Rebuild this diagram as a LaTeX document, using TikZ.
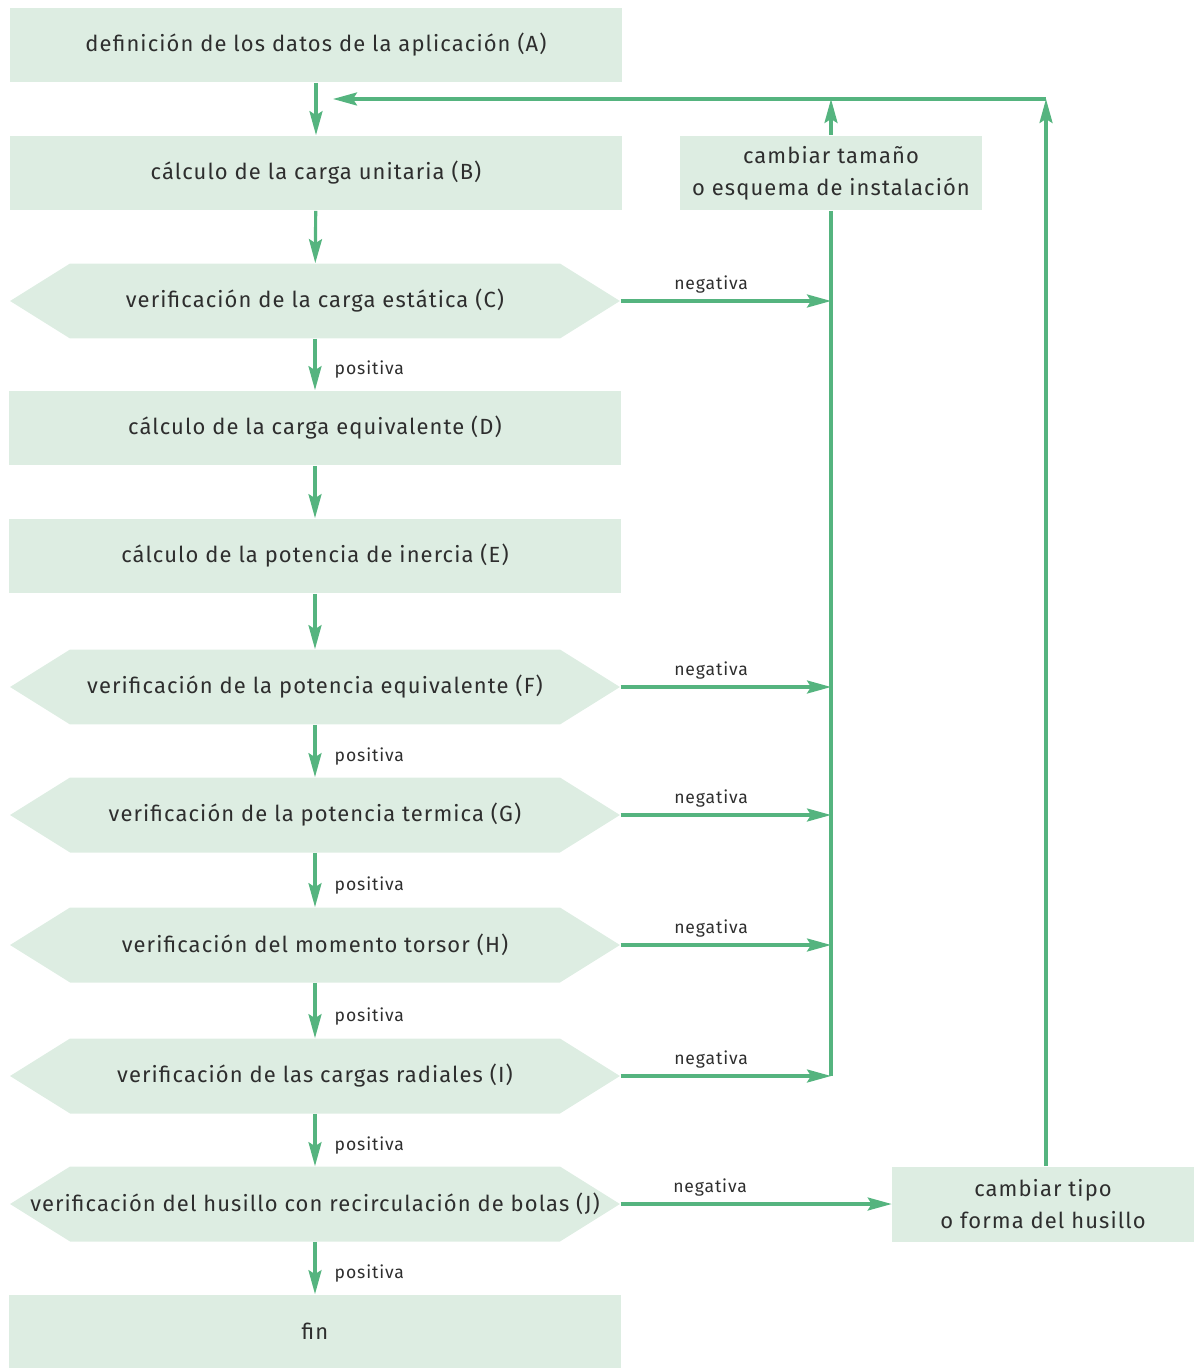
\documentclass[tikz,border=0pt]{standalone}
\usepackage{fontspec}
\setmainfont{Fira Sans}[LetterSpace=5]
\usetikzlibrary{arrows.meta, shapes.symbols}

\definecolor{boxfill}{HTML}{DDEDE2}
\definecolor{flowgreen}{HTML}{55B47F}
\definecolor{textgray}{HTML}{2E2E2E}

\begin{document}
\begin{tikzpicture}[
  x=0.02cm, y=-0.02cm,
  >={Stealth[length=4.8mm, width=2.6mm, inset=0.8mm]},
  font=\fontsize{12.5}{18}\selectfont,
  procbox/.style={fill=boxfill, text=textgray, minimum width=12.24cm,
    minimum height=1.5cm, inner sep=0pt, align=center},
  checkbox/.style={fill=boxfill, text=textgray, minimum width=12.2cm,
    minimum height=1.5cm, inner sep=0pt, shape=signal,
    signal to=west and east, signal pointer angle=64,
    execute at begin node={\hbox to 0pt\bgroup\hss},
    execute at end node={\hss\egroup}},
  flow/.style={->, flowgreen, line width=1.8pt},
  tag/.style={text=textgray, font=\fontsize{10}{12}\selectfont},
  ]
  \useasboundingbox (0,0) rectangle (1202,1368);

  % main column
  \node[procbox] (A) at (316,45) {definición de los datos de la aplicación (A)};
  \node[procbox] (B) at (316,173) {cálculo de la carga unitaria (B)};
  \node[checkbox] (C) at (315,301) {verificación de la carga estática (C)};
  \node[procbox] (D) at (315,428) {cálculo de la carga equivalente (D)};
  \node[procbox] (E) at (315,556) {cálculo de la potencia de inercia (E)};
  \node[checkbox] (F) at (315,687) {verificación de la potencia equivalente (F)};
  \node[checkbox] (G) at (315,815) {verificación de la potencia termica (G)};
  \node[checkbox] (H) at (315,945) {verificación del momento torsor (H)};
  \node[checkbox] (I) at (315,1076) {verificación de las cargas radiales (I)};
  \node[checkbox] (J) at (315,1204) {verificación del husillo con recirculación de bolas (J)};
  \node[procbox, minimum height=1.46cm] (fin) at (315,1331) {fin};

  % side boxes
  \node[procbox, minimum width=6.06cm] (size) at (831,173) {cambiar tamaño\\o esquema de instalación};
  \node[procbox, minimum width=6.04cm] (kind) at (1043,1204) {cambiar tipo\\o forma del husillo};

  \coordinate (corner) at (1046,99);
  \coordinate (entry) at (333,99);

  % downward flow
  \draw[flow] (A) -- (B);
  \draw[flow] (B) -- (C);
  \draw[flow] (D) -- (E);
  \draw[flow] (E) -- (F);
  \foreach \from/\to in {C/D, F/G, G/H, H/I, I/J, J/fin} {
    \draw[flow] (\from) -- (\to) node[tag, pos=0.6, right=7pt] {positiva};
  }

  % negative results
  \draw[flowgreen, line width=1.8pt] (size.south) -- (size.south |- I.east);
  \foreach \chk in {C, F, G, H, I} {
    \draw[flow] (\chk.east) -- (\chk.east -| size.south)
      node[tag, pos=0.43, above=0pt] {negativa};
  }
  \draw[flow] (J.east) -- (kind.west) node[tag, pos=0.33, above=0pt] {negativa};

  % back to the start
  \draw[flow] (size.north) -- (size.north |- corner);
  \draw[flow] (kind.north -| corner) -- (corner);
  \draw[flow] (corner) -- (entry);
\end{tikzpicture}
\end{document}
